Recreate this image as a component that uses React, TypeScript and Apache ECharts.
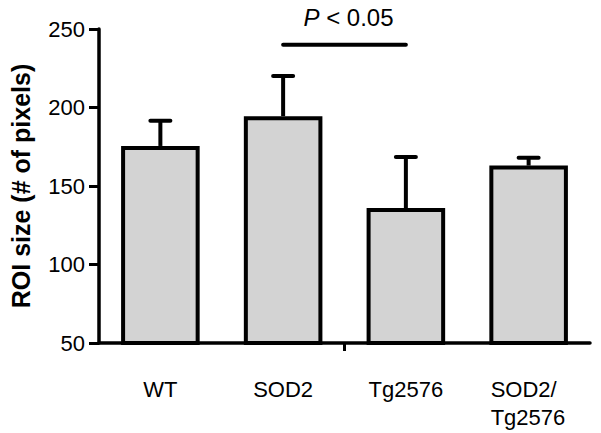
import React, { useEffect, useRef } from "react";
import * as echarts from "echarts";

const categories = ["WT", "SOD2", "Tg2576", "SOD2/\nTg2576"];
const means = [175.5, 194.5, 136, 163];
const errors = [16, 25.5, 32.5, 5];
const yMin = 50;
const yMax = 250;
const yInterval = 50;
const sigFrom = 1;
const sigTo = 2;
const sigY = 240;
const sigLabel = "< 0.05";

const FONT = "'Liberation Sans', Arial, Helvetica, sans-serif";

export default function App() {
  const ref = useRef<HTMLDivElement>(null);
  useEffect(() => {
    document.body.style.margin = "0";
    const chart = echarts.init(ref.current!, null, { renderer: "svg" });
    const errData = means.map((m, i) => [i, m, m + errors[i]]);
    chart.setOption({
      animation: false,
      backgroundColor: "#ffffff",
      textStyle: { fontFamily: FONT },
      grid: { left: 96, right: 11, top: 29, bottom: 90 },
      xAxis: [
        {
          type: "category",
          data: categories,
          axisLine: { show: true, lineStyle: { color: "#000", width: 3.5 } },
          axisTick: { show: false },
          axisLabel: {
            interval: 0,
            hideOverlap: false,
            color: "#000",
            fontSize: 22,
            fontFamily: FONT,
            margin: 32,
            lineHeight: 28,
            formatter: (v: string) =>
              v.indexOf("\n") >= 0
                ? v.split("\n").map((s) => "{l|" + s + "}").join("\n")
                : v,
            rich: {
              l: { width: 76, align: "left", fontSize: 22, fontFamily: FONT, color: "#000", lineHeight: 28 },
            },
          },
        },
        {
          type: "value",
          min: 0,
          max: 1,
          position: "bottom",
          axisLine: { show: false },
          splitLine: { show: false },
          axisLabel: { show: false },
          axisTick: {
            show: true,
            customValues: [0.5],
            length: 8,
            lineStyle: { color: "#000", width: 3 },
          },
        },
      ],
      yAxis: {
        type: "value",
        min: yMin,
        max: yMax,
        interval: yInterval,
        name: "ROI size (# of pixels)",
        nameLocation: "middle",
        nameGap: 66,
        nameTextStyle: { color: "#000", fontSize: 25, fontWeight: "bold", fontFamily: FONT },
        axisLine: { show: true, lineStyle: { color: "#000", width: 3.5 } },
        axisTick: { show: true, inside: false, length: 10, lineStyle: { color: "#000", width: 3 } },
        axisLabel: { color: "#000", fontSize: 22, margin: 14, fontFamily: FONT },
        splitLine: { show: false },
      },
      series: [
        {
          type: "bar",
          data: means,
          barWidth: "64%",
          itemStyle: { color: "#d3d3d3", borderColor: "#000", borderWidth: 4 },
          z: 2,
        },
        {
          type: "custom",
          data: errData,
          z: 3,
          renderItem: (params: any, api: any) => {
            const i = api.value(0);
            const base = api.coord([i, api.value(1)]);
            const top = api.coord([i, api.value(2)]);
            const half = 10;
            const style = { stroke: "#000", lineWidth: 4, lineCap: "round" };
            return {
              type: "group",
              children: [
                { type: "line", shape: { x1: base[0], y1: base[1], x2: top[0], y2: top[1] }, style: { stroke: "#000", lineWidth: 4 } },
                { type: "line", shape: { x1: top[0] - half, y1: top[1], x2: top[0] + half, y2: top[1] }, style },
              ],
            };
          },
        },
        {
          type: "custom",
          data: [[sigFrom, sigTo, sigY]],
          z: 3,
          renderItem: (params: any, api: any) => {
            const a = api.coord([api.value(0), api.value(2)]);
            const b = api.coord([api.value(1), api.value(2)]);
            return {
              type: "group",
              children: [
                {
                  type: "line",
                  shape: { x1: a[0], y1: a[1], x2: b[0], y2: b[1] },
                  style: { stroke: "#000", lineWidth: 4, lineCap: "round" },
                },
                {
                  type: "text",
                  x: (a[0] + b[0]) / 2 + 4,
                  y: a[1] - 27,
                  style: {
                    text: "{p|P} {n|" + sigLabel + "}",
                    align: "center",
                    verticalAlign: "middle",
                    rich: {
                      p: { fontStyle: "italic", fontSize: 24, fontFamily: FONT, fill: "#000" },
                      n: { fontSize: 24, fontFamily: FONT, fill: "#000" },
                    },
                    fontSize: 24,
                    fontFamily: FONT,
                    fill: "#000",
                  },
                },
              ],
            };
          },
        },
      ],
    });
    return () => chart.dispose();
  }, []);
  return <div ref={ref} style={{ width: 601, height: 433 }} />;
}
